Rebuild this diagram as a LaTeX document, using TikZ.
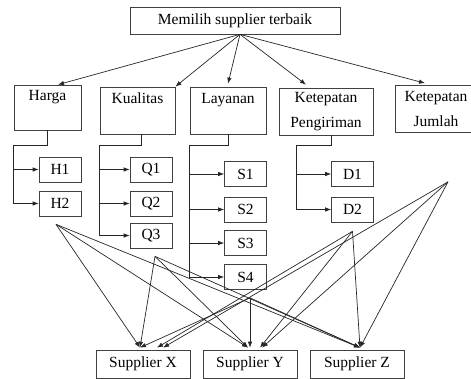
\documentclass[tikz,border=0pt]{standalone}
\usepackage{fontspec}
\setmainfont{Liberation Serif}
\usetikzlibrary{arrows.meta}

\begin{document}
\begin{tikzpicture}[x=1pt, y=1pt, >={Latex[length=6pt, width=4.5pt]}, line width=0.7pt,
  box/.style={rectangle, draw=black!75, inner sep=2pt, font=\fontsize{15.5}{18}\selectfont},
  crit/.style={box, align=center, inner ysep=3pt, minimum height=47pt, font=\fontsize{15.5}{25}\selectfont},
  sub/.style={box, minimum width=42pt, minimum height=25pt},
  alt/.style={box, minimum width=94pt, minimum height=28pt},
  link/.style={->, black!85}]

  \clip (0,0) rectangle (471,-379);

  \node[box, minimum width=210pt, minimum height=27pt] (goal) at (235,-20.5) {Memilih supplier terbaik};

  \node[crit, minimum width=67pt, minimum height=45pt] (harga) at (47.5,-107.5) {Harga\\\mbox{}};
  \node[crit, minimum width=75pt, right of=harga, node distance=90pt, yshift=-3pt] (kualitas) {Kualitas\\\mbox{}};
  \node[crit, minimum width=76pt, right of=kualitas, node distance=90.5pt] (layanan) {Layanan\\\mbox{}};
  \node[crit, minimum width=94pt, right of=layanan, node distance=98pt, yshift=-1pt] (kp) {Ketepatan\\Pengiriman};
  \node[crit, minimum width=82pt, right of=kp, node distance=110pt, yshift=2.5pt] (kj) {Ketepatan\\Jumlah};

  \node[sub, below of=harga, node distance=62pt, xshift=12.5pt] (h1) {H1};
  \node[sub, below of=h1, node distance=34pt] (h2) {H2};

  \node[sub, below of=kualitas, node distance=59pt, xshift=13.5pt] (q1) {Q1};
  \node[sub, below of=q1, node distance=34pt] (q2) {Q2};
  \node[sub, below of=q2, node distance=32pt] (q3) {Q3};

  \node[sub, below of=layanan, node distance=63.5pt, xshift=17.5pt] (s1) {S1};
  \node[sub, below of=s1, node distance=35.5pt] (s2) {S2};
  \node[sub, below of=s2, node distance=33.5pt] (s3) {S3};
  \node[sub, below of=s3, node distance=34pt] (s4) {S4};

  \node[sub, below of=kp, node distance=62.5pt, xshift=26.5pt] (d1) {D1};
  \node[sub, below of=d1, node distance=35.5pt] (d2) {D2};

  \node[alt] (supX) at (143,-364) {Supplier X};
  \node[alt, right of=supX, node distance=107pt] (supY) {Supplier Y};
  \node[alt, right of=supY, node distance=107pt] (supZ) {Supplier Z};

  % goal to criteria
  \coordinate (root) at ([xshift=5pt]goal.south);
  \draw[link] (root) -- ([xshift=10.5pt]harga.north);
  \draw[link] (root) -- (kualitas.north east);
  \draw[link] (root) -- ([yshift=3pt]layanan.north);
  \draw[link] (root) -- ([xshift=-20pt, yshift=3pt]kp.north);
  \draw[link] (root) -- ([xshift=-11pt, yshift=2pt]kj.north);

  % criteria to sub-criteria
  \coordinate (hbus) at ([yshift=-15pt]harga.south west);
  \coordinate (qbus) at (kualitas.south west |- hbus);
  \coordinate (sbus) at (layanan.south west |- hbus);
  \coordinate (dbus) at ([xshift=18pt, yshift=-10pt]kp.south west);

  \draw[black!85] (harga.south) |- (hbus);
  \draw[link] (hbus) |- (h1);
  \draw[link] (hbus) |- (h2);

  \draw[black!85] ([xshift=3.5pt]kualitas.south) |- (qbus);
  \draw[link] (qbus) |- (q1);
  \draw[link] (qbus) |- (q2);
  \draw[link] (qbus) |- (q3);

  \draw[black!85] (layanan.south) |- (sbus);
  \draw[link] (sbus) |- (s1);
  \draw[link] (sbus) |- (s2);
  \draw[link] (sbus) |- (s3);
  \draw[link] (sbus) |- (s4);

  \draw[black!85] ([xshift=5pt]kp.south) |- (dbus);
  \draw[link] (dbus) |- (d1);
  \draw[link] (dbus) |- (d2);

  % sub-criteria to suppliers
  \coordinate (srcA) at ([xshift=-4pt, yshift=-8pt]h2.south);
  \coordinate (srcB) at ([xshift=4pt, yshift=-8pt]q3.south);
  \coordinate (srcC) at ([xshift=4.5pt, yshift=-8pt]s4.south);
  \coordinate (srcD) at ([yshift=-9pt]d2.south);
  \coordinate (srcE) at ([xshift=12pt, yshift=-49pt]kj.south);

  \foreach \src/\xa/\xb in {srcA/-3/-2, srcB/-3/-2, srcC/-3/0, srcD/14/10, srcE/20/12} {
    \draw[link] (\src) -- ([xshift=\xa pt, yshift=2pt]supX.north);
    \draw[link] (\src) -- ([xshift=\xb pt, yshift=2pt]supY.north);
    \draw[link] (\src) -- ([xshift=3pt, yshift=2pt]supZ.north);
  }
\end{tikzpicture}
\end{document}
